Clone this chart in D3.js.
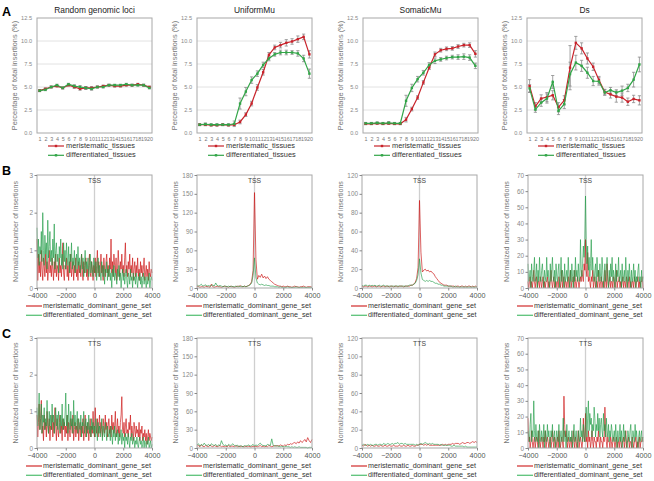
<!DOCTYPE html>
<html><head><meta charset="utf-8">
<script src="https://cdn.jsdelivr.net/npm/d3@7"></script>
<style>body{margin:0;background:#fff} svg{display:block;font-family:Arial,"Liberation Sans",sans-serif}</style>
</head><body><svg id="c" width="654" height="481"></svg>
<script>
// ---------- DATA: row A (insertion position bins 1..20) ----------
const positions = d3.range(1, 21);
const titlesA = ["Random genomic loci", "UniformMu", "SomaticMu", "Ds"];
const yTicksA = [0, 2.5, 5, 7.5, 10, 12.5];
const seriesNamesA = ["meristematic_tissues", "differentiated_tissues"];

const randomMer = [4.6,4.8,5.0,5.1,4.9,5.2,5.0,4.8,4.9,4.9,5.0,5.1,5.2,5.1,5.1,5.2,5.2,5.3,5.2,5.0];
const randomMerErr = [0.1,0.1,0.1,0.1,0.1,0.1,0.15,0.15,0.15,0.15,0.1,0.1,0.1,0.1,0.1,0.1,0.1,0.1,0.1,0.1];
const randomDif = [4.6,4.7,5.0,5.2,4.9,5.3,5.1,5.0,4.9,4.8,5.0,5.0,5.2,5.2,5.2,5.3,5.2,5.2,5.2,4.9];
const randomDifErr = [0.1,0.1,0.1,0.1,0.1,0.1,0.15,0.15,0.15,0.15,0.1,0.1,0.1,0.1,0.1,0.1,0.1,0.1,0.1,0.1];

const uniMer = [0.9,0.9,0.85,0.85,0.9,0.85,0.9,1.2,2.0,3.2,4.95,6.6,8.5,9.3,9.55,9.8,9.95,10.2,10.45,8.55];
const uniMerErr = [0.1,0.1,0.1,0.1,0.1,0.1,0.1,0.2,0.2,0.25,0.3,0.3,0.25,0.25,0.3,0.35,0.3,0.35,0.3,0.4];
const uniDif = [0.9,0.95,0.9,0.9,0.9,0.9,1.0,3.2,4.5,5.75,6.45,7.4,8.1,8.55,8.75,8.75,8.75,8.65,8.1,6.45];
const uniDifErr = [0.1,0.15,0.1,0.1,0.1,0.1,0.3,0.6,0.45,0.35,0.3,0.3,0.25,0.2,0.25,0.25,0.2,0.3,0.35,0.5];

const somMer = [1.0,1.0,1.05,1.0,1.05,1.0,1.0,1.45,2.6,3.85,5.5,7.1,8.55,9.0,9.15,9.2,9.4,9.55,9.55,8.6];
const somMerErr = [0.1,0.1,0.1,0.1,0.1,0.1,0.1,0.25,0.2,0.2,0.2,0.2,0.25,0.2,0.2,0.2,0.2,0.2,0.25,0.35];
const somDif = [1.05,1.05,1.1,1.05,1.1,1.05,1.05,3.5,4.9,5.85,6.55,7.4,7.85,8.0,8.15,8.25,8.25,8.3,8.2,7.3];
const somDifErr = [0.1,0.1,0.1,0.1,0.15,0.1,0.1,0.6,0.4,0.3,0.25,0.25,0.3,0.2,0.2,0.2,0.25,0.3,0.3,0.3];

const dsMer = [5.1,2.9,3.75,3.9,4.1,2.8,3.55,7.1,9.8,9.2,8.1,7.2,5.75,4.45,4.2,3.95,3.85,3.4,3.7,3.55];
const dsMerErr = [0.7,0.4,0.4,0.5,0.5,0.5,0.5,2.4,0.7,0.6,0.6,0.4,0.4,0.3,0.4,0.6,0.5,0.4,0.4,0.5];
const dsDif = [4.85,2.55,3.3,3.75,5.55,2.4,3.15,6.4,7.65,7.3,6.55,5.65,5.6,4.4,4.65,4.4,4.6,4.9,5.8,7.45];
const dsDifErr = [0.4,0.3,0.4,0.5,0.7,0.4,0.5,1.3,0.8,0.6,0.6,0.5,0.4,0.3,0.3,0.3,0.5,0.4,0.8,0.8];

// ---------- DATA: rows B (TSS) and C (TTS), distance -4000..4000 ----------
const distTicks = [-4000, -2000, 0, 2000, 4000];
const seriesNamesBC = ["meristematic_dominant_gene_set", "differentiated_dominant_gene_set"];
const yMaxBC = [3, 180, 120, 70];
const yTicksBC = [[0,1,2,3],[0,30,60,90,120,150,180],[0,20,40,60,80,100,120],[0,10,20,30,40,50,60,70]];

const rndTssMer = [1.3,0.2,0.9,0.4,0.7,0.3,1.0,0.5,0.2,0.8,0.6,0.3,0.9,0.4,0.7,0.2,0.5,1.0,0.4,0.6,
0.3,0.8,0.5,0.2,0.7,0.4,0.9,0.3,0.6,0.5,0.2,0.8,0.4,0.6,0.3,0.7,1.2,0.4,0.2,0.6,
0.5,0.8,0.3,0.6,0.2,0.7,0.4,0.9,0.3,0.5,0.7,0.2,0.6,0.4,0.8,0.3,0.5,0.2,0.7,0.4,
0.6,0.3,0.9,0.5,0.2,0.7,0.4,0.6,0.8,0.3,0.5,0.2,0.6,0.9,0.4,0.3,0.7,0.5,0.2,0.6,
0.4,0.8,0.3,0.6,1.0,0.4,0.7,0.3,0.5,0.9,0.4,0.6,0.2,0.8,0.5,0.3,0.7,0.9,0.4,0.6,
0.3,0.8,0.5,1.3,0.4,0.7,0.3,0.9,0.6,0.4,0.8,0.2,0.5,1.0,0.6,0.3,0.7,0.5,0.9,0.4,
0.6,0.3,0.8,1.2,0.4,0.6,0.3,0.7,0.5,0.9,0.3,0.6,0.4,0.8,0.2,0.5,0.7,0.3,0.6,0.4,
0.8,0.3,0.5,0.2,0.7,0.4,0.6,0.3,0.5,0.8,0.2,0.4,0.6,0.3,0.5,0.2,0.7,0.4,0.3,0.5,0.4];
const rndTssDif = [1.6,0.8,1.3,0.6,1.1,0.9,1.5,0.7,2.0,1.0,0.6,1.4,0.9,1.2,0.5,1.8,0.8,1.1,1.5,0.7,
1.0,0.6,1.3,0.8,1.7,0.5,1.0,1.2,0.7,0.9,0.4,1.1,0.8,1.3,0.6,0.9,0.5,1.2,0.7,1.0,
0.5,1.2,0.8,0.6,1.1,0.4,0.9,0.7,1.2,0.5,0.8,0.6,1.0,0.4,0.7,0.9,0.5,1.1,0.6,0.8,
0.4,0.7,0.9,0.5,0.8,0.3,0.6,1.0,0.4,0.7,0.5,0.8,0.3,0.6,0.9,0.4,0.7,0.5,0.3,0.8,
0.6,0.4,0.7,0.2,0.5,0.8,0.3,0.6,0.4,0.2,0.7,0.5,0.3,0.6,0.1,0.5,0.4,0.7,0.2,0.5,
0.3,0.6,0.2,0.4,0.0,0.5,0.3,0.6,0.2,0.4,0.3,0.1,0.5,0.3,0.6,0.2,0.4,0.0,0.3,0.5,
0.2,0.4,0.1,0.3,0.5,0.2,0.0,0.4,0.3,0.1,0.5,0.2,0.3,0.0,0.4,0.2,0.3,0.1,0.4,0.2,
0.0,0.3,0.2,0.4,0.1,0.3,0.0,0.2,0.4,0.1,0.3,0.2,0.0,0.3,0.1,0.2,0.4,0.0,0.2,0.3,0.2];

const uniTssMer = [2,3,1,2,2,1,3,2,2,1,6,2,1,2,3,2,2,1,2,3,2,2,1,3,2,2,1,2,3,2,4,2,2,3,2,3,4,6,10,28,152,45,14,20,17,22,16,19,15,18,14,12,10,8,6,5,4,3,3,2,3,2,2,3,2,2,1,2,3,2,2,1,2,2,3,2,1,2,2,2,1];
const uniTssDif = [5,3,4,6,3,4,5,3,4,3,4,5,3,8,4,3,4,3,2,3,3,2,3,2,3,2,2,3,2,3,2,3,2,3,2,3,4,5,8,20,48,16,8,6,5,6,5,4,5,4,4,3,3,3,2,2,2,1,2,1,1,1,1,2,1,1,1,1,1,2,1,1,1,1,1,1,1,1,1,1,1];

const somTssMer = [2,1,2,2,1,2,2,1,2,2,1,2,2,1,2,2,1,2,2,1,2,2,1,2,2,1,2,2,2,1,2,2,2,2,3,3,4,6,10,22,93,38,17,19,20,18,19,17,18,16,15,12,10,8,6,5,4,3,3,3,2,2,2,2,2,1,2,2,1,2,2,1,2,1,2,2,1,2,1,2,1];
const somTssDif = [3,2,3,3,2,3,2,3,2,3,2,2,3,2,2,3,2,2,2,2,2,2,2,2,2,2,2,2,2,2,2,2,2,3,3,3,4,5,8,14,31,16,9,8,7,8,7,8,7,7,6,5,5,4,4,3,3,2,2,2,2,2,2,1,1,2,1,1,1,1,1,1,1,1,1,1,1,1,1,1,1];

const dsTssMer = [4,0,4,7,0,4,0,4,11,4,0,4,7,0,4,4,0,7,4,0,
4,7,0,4,0,4,4,7,0,4,0,4,11,4,0,4,7,0,4,0,
4,4,0,7,4,0,4,11,0,4,7,0,4,4,0,4,7,0,4,11,
0,4,4,7,0,11,4,0,4,7,4,0,4,7,4,11,7,4,15,11,
30,11,7,22,4,7,4,0,7,4,11,0,4,7,0,4,4,0,11,4,
0,4,7,0,4,4,0,11,4,0,15,4,0,4,7,0,4,4,0,7,
4,0,4,11,0,4,4,7,0,4,0,4,7,0,4,4,0,7,4,0,
4,7,0,4,0,4,4,0,7,4,0,4,4,7,0,4,0,4,4,7,0];
const dsTssDif = [15,4,7,11,0,15,7,4,11,19,4,7,15,0,11,4,19,7,4,11,
15,7,0,11,7,4,19,7,11,4,0,15,4,11,19,7,4,11,0,15,
7,4,11,15,0,7,19,4,11,7,0,15,4,7,11,4,19,7,0,11,
4,15,7,0,11,4,19,7,11,4,15,7,4,30,11,7,15,26,19,30,
57,30,15,26,11,19,7,15,30,11,19,7,4,11,15,0,19,7,11,4,
15,7,4,19,11,0,7,15,4,11,19,7,0,11,4,15,7,19,4,11,
7,0,15,4,11,7,19,4,7,11,0,15,4,7,11,4,19,7,0,11,
4,15,7,0,11,4,7,15,4,11,0,7,4,11,15,4,7,0,11,4,7];

const rndTtsMer = [0.9,0.3,0.7,1.2,0.5,0.8,1.3,0.4,0.6,0.2,0.9,0.5,0.7,0.3,1.0,0.6,0.4,0.8,0.2,0.6,
0.5,0.9,0.3,0.7,0.4,1.1,0.6,0.2,0.8,0.5,0.3,0.7,0.9,0.4,0.6,0.2,0.8,0.5,0.7,0.3,
0.6,0.4,0.9,0.2,0.7,0.5,0.3,0.8,0.6,0.4,0.9,0.2,0.5,0.7,0.3,0.6,0.4,0.8,0.2,0.5,
0.7,0.3,0.6,0.4,0.8,0.2,0.5,0.9,0.3,0.6,0.4,0.7,0.2,0.5,0.8,0.3,0.6,0.4,1.0,0.5,
0.3,1.1,0.6,0.4,0.8,0.3,0.6,0.9,0.4,0.7,0.5,0.3,0.8,0.6,0.4,0.9,0.5,0.7,0.3,0.6,
0.8,0.4,0.6,0.3,0.9,0.5,0.7,0.4,0.6,1.0,0.3,0.5,0.8,0.4,0.6,0.3,0.7,0.9,1.4,0.5,
0.4,0.7,0.3,0.6,0.8,0.4,0.5,0.3,0.7,0.5,0.9,0.3,0.6,0.4,0.2,0.7,0.5,0.3,0.6,0.4,
0.5,0.3,0.7,0.2,0.5,0.4,0.6,0.2,0.4,0.3,0.5,0.2,0.4,0.1,0.3,0.5,0.2,0.4,0.3,0.2,0.3];
const rndTtsDif = [1.1,0.6,0.9,1.5,0.5,0.8,1.2,0.4,0.9,0.7,1.1,0.5,0.8,0.6,1.3,0.7,0.4,1.0,0.6,0.9,
0.5,1.2,0.7,0.9,0.4,0.8,1.1,0.6,0.9,0.5,1.0,0.7,0.4,0.9,0.6,1.2,0.5,0.8,0.6,0.9,
1.5,0.6,0.9,0.4,1.2,0.7,0.5,1.0,0.6,0.8,0.4,1.3,0.6,0.9,0.5,0.7,1.0,0.4,0.8,0.6,
0.5,0.9,0.3,0.7,0.6,1.0,0.4,0.6,0.8,0.3,0.7,0.5,0.9,0.4,0.6,0.3,0.8,0.5,0.7,0.4,
0.6,0.3,0.8,0.5,0.2,0.7,0.4,0.6,0.3,0.5,0.8,0.2,0.6,0.4,0.3,0.7,0.5,0.2,0.6,0.4,
0.3,0.5,0.2,0.6,0.4,0.1,0.5,0.3,0.6,0.2,0.4,0.3,0.5,0.1,0.4,0.2,0.3,0.5,0.1,0.4,
0.2,0.3,0.0,0.4,0.2,0.3,0.1,0.4,0.2,0.0,0.3,0.2,0.4,0.1,0.2,0.3,0.0,0.2,0.1,0.3,
0.1,0.0,0.2,0.3,0.1,0.2,0.0,0.1,0.3,0.0,0.2,0.1,0.0,0.2,0.1,0.3,0.0,0.1,0.2,0.0,0.1];

const uniTtsMer = [3,4,2,5,3,2,4,3,2,5,3,2,4,3,2,3,4,2,3,2,3,2,4,2,3,3,2,4,2,3,2,3,2,2,3,2,3,2,2,3,2,3,2,3,4,2,3,2,3,2,4,3,2,3,4,3,4,3,5,4,3,5,4,6,5,7,6,8,9,7,10,8,12,9,11,14,10,17,12,9,14];
const uniTtsDif = [5,7,3,6,4,8,5,4,6,3,7,5,4,6,3,5,4,12,6,4,5,3,6,4,5,7,4,3,5,2,4,3,2,4,3,4,5,3,4,6,3,5,4,6,8,5,4,4,3,6,5,4,15,4,3,4,3,3,2,3,2,2,3,2,2,1,2,1,2,1,1,2,1,1,1,1,1,0,1,1,1];

const somTtsMer = [3,2,4,3,2,3,2,3,2,2,3,2,2,3,2,2,3,2,2,3,2,2,3,2,2,2,3,2,2,3,2,2,3,2,2,3,2,2,3,3,4,4,4,3,4,3,4,3,3,3,3,3,3,3,3,3,4,3,4,3,4,4,4,5,4,5,5,5,4,5,6,5,5,6,6,5,6,7,6,7,6];
const somTtsDif = [3,4,3,3,4,3,4,3,3,4,4,3,4,4,3,5,4,4,5,4,4,5,4,5,5,6,4,5,5,4,5,4,4,4,4,4,4,3,4,3,4,5,4,5,6,5,4,5,4,5,4,4,4,4,3,4,3,3,3,3,3,3,2,2,3,2,2,2,2,2,2,1,2,1,1,1,1,1,1,1,1];

const dsTtsMer = [19,4,7,0,4,11,4,0,4,7,0,4,7,4,0,11,4,0,4,7,
4,0,7,4,11,0,4,7,4,0,4,7,0,4,11,4,0,7,4,0,
4,7,0,11,4,0,4,7,4,0,33,15,7,11,4,0,7,4,0,4,
7,0,4,11,4,0,7,4,0,4,11,0,4,7,4,0,4,19,7,4,
22,4,7,0,11,4,7,0,4,11,4,0,7,4,4,0,7,4,11,4,
0,7,4,4,0,7,4,26,11,4,0,7,4,4,0,7,4,0,4,7,
4,0,4,7,0,4,4,0,7,4,0,4,4,7,0,4,11,0,4,4,
7,0,4,4,0,7,4,0,4,4,7,0,4,0,4,7,0,4,4,7,4];
const dsTtsDif = [11,7,4,15,22,4,11,7,30,11,4,15,7,4,11,0,15,7,4,11,
7,4,15,0,11,7,4,15,7,11,4,0,11,7,15,4,7,11,0,4,
11,7,4,15,0,7,11,4,7,19,4,11,7,0,15,4,7,11,4,7,
4,11,0,7,15,4,7,11,4,0,11,7,4,19,7,11,4,15,7,4,
15,26,7,19,30,11,22,15,19,7,15,11,26,19,7,15,11,22,11,19,
7,15,19,11,7,22,11,15,7,19,11,7,15,4,11,7,15,11,4,7,
11,4,15,7,0,11,4,7,15,4,11,0,7,15,4,11,7,4,0,11,
7,4,11,15,4,0,11,7,4,15,7,11,4,0,7,11,4,7,11,4,7];

// ---------- LAYOUT ----------
const svg = d3.select("#c");
const colsA = [37, 197, 363, 527], colsBC = [37, 197, 362, 528], pw = 115;
const rows = {A: [18, 133], B: [175, 288], C: [338, 448]};
const RED = "#c8232b", GREEN = "#32a548";

function styleAxis(g, size, color) {
  g.select(".domain").remove();
  g.selectAll("text").attr("font-size", size).attr("fill", color).attr("font-family", "Arial, Liberation Sans, sans-serif");
  g.selectAll("line").attr("stroke", "#888");
}

function panelA(i, mer, merErr, dif, difErr) {
  const x0 = colsA[i], [top, bot] = rows.A;
  const x = d3.scaleLinear().domain([0.55, 20.45]).range([x0, x0 + pw]);
  const y = d3.scaleLinear().domain([0, 12.5]).range([bot, top]);
  const g = svg.append("g");
  g.selectAll(".grid").data(yTicksA.slice(1, -1)).join("line")
    .attr("x1", x0).attr("x2", x0 + pw).attr("y1", d => y(d)).attr("y2", d => y(d))
    .attr("stroke", "#e2e2e2").attr("stroke-width", 1);
  g.append("rect").attr("x", x0).attr("y", top).attr("width", pw).attr("height", bot - top)
    .attr("fill", "none").attr("stroke", "#a8a8a8").attr("stroke-width", 1);
  g.append("g").attr("transform", `translate(${x0},0)`)
    .call(d3.axisLeft(y).tickValues(yTicksA).tickFormat(d3.format(".1f")).tickSize(0).tickPadding(5))
    .call(a => styleAxis(a, 5.6, "#888"));
  g.append("g").attr("transform", `translate(0,${bot})`)
    .call(d3.axisBottom(x).tickValues(positions).tickFormat(d3.format("d")).tickSize(0).tickPadding(4))
    .call(a => styleAxis(a, 5.4, "#777"));
  g.append("text").attr("x", x0 - 22).attr("y", (top + bot) / 2).attr("transform", `rotate(-90,${x0 - 22},${(top + bot) / 2})`)
    .attr("text-anchor", "middle").attr("dominant-baseline", "middle").attr("font-size", 7.4).attr("fill", "#777")
    .text("Percentage of total insertions (%)");
  g.append("text").attr("x", x0 + pw / 2).attr("y", 13).attr("text-anchor", "middle")
    .attr("font-size", 8.4).attr("fill", "#222").text(titlesA[i]);

  const sets = [[mer, merErr, RED], [dif, difErr, GREEN]];
  sets.forEach(([vals, errs, col]) => {
    const pts = vals.map((v, k) => ({p: positions[k], v, e: errs[k]}));
    const eb = g.append("g").attr("stroke", "#8a8a8a").attr("stroke-width", 0.8);
    pts.forEach(d => {
      eb.append("line").attr("x1", x(d.p)).attr("x2", x(d.p)).attr("y1", y(d.v - d.e)).attr("y2", y(d.v + d.e));
      eb.append("line").attr("x1", x(d.p) - 1.6).attr("x2", x(d.p) + 1.6).attr("y1", y(d.v - d.e)).attr("y2", y(d.v - d.e));
      eb.append("line").attr("x1", x(d.p) - 1.6).attr("x2", x(d.p) + 1.6).attr("y1", y(d.v + d.e)).attr("y2", y(d.v + d.e));
    });
  });
  sets.forEach(([vals, errs, col]) => {
    const pts = vals.map((v, k) => ({p: positions[k], v}));
    g.append("path").datum(pts).attr("fill", "none").attr("stroke", col).attr("stroke-width", 1.2)
      .attr("d", d3.line().x(d => x(d.p)).y(d => y(d.v)));
    g.selectAll(null).data(pts).join("rect").attr("x", d => x(d.p) - 1.2).attr("y", d => y(d.v) - 1.2)
      .attr("width", 2.4).attr("height", 2.4).attr("fill", col);
  });
  seriesNamesA.forEach((name, k) => {
    const ly = 146 + k * 9.3, col = k ? GREEN : RED, lx = x0 + 11;
    g.append("line").attr("x1", lx).attr("x2", lx + 16).attr("y1", ly).attr("y2", ly).attr("stroke", col).attr("stroke-width", 1.2);
    g.append("rect").attr("x", lx + 8 - 1.2).attr("y", ly - 1.2).attr("width", 2.4).attr("height", 2.4).attr("fill", col);
    g.append("text").attr("x", lx + 18).attr("y", ly).attr("dominant-baseline", "middle")
      .attr("font-size", 7.4).attr("fill", "#333").text(name);
  });
}

function panelBC(row, i, mer, dif, label) {
  const x0 = colsBC[i], [top, bot] = rows[row];
  const x = d3.scaleLinear().domain([-4000, 4000]).range([x0, x0 + pw]);
  const y = d3.scaleLinear().domain([0, yMaxBC[i]]).range([bot, top]);
  const g = svg.append("g");
  g.append("line").attr("x1", x(0)).attr("x2", x(0)).attr("y1", top).attr("y2", bot)
    .attr("stroke", "#cfcfcf").attr("stroke-width", 1.3);
  g.append("text").attr("x", x(0)).attr("y", top + 7.5).attr("text-anchor", "middle")
    .attr("font-size", 6.8).attr("fill", "#444").text(label);
  const line = vals => d3.line()
    .x((d, k) => x(-4000 + k * 8000 / (vals.length - 1))).y(d => y(d))(vals);
  g.append("path").attr("d", line(mer)).attr("fill", "none").attr("stroke", "#cc1616").attr("stroke-width", 0.9).attr("stroke-opacity", 0.75);
  g.append("path").attr("d", line(dif)).attr("fill", "none").attr("stroke", "#1f9a45").attr("stroke-width", 0.9).attr("stroke-opacity", 0.7);
  g.append("rect").attr("x", x0).attr("y", top).attr("width", pw).attr("height", bot - top)
    .attr("fill", "none").attr("stroke", "#a8a8a8").attr("stroke-width", 1);
  g.append("g").attr("transform", `translate(${x0},0)`)
    .call(d3.axisLeft(y).tickValues(yTicksBC[i]).tickFormat(d3.format("d")).tickSize(2.5).tickPadding(1.5))
    .call(a => styleAxis(a, 6.4, "#888"));
  g.append("g").attr("transform", `translate(0,${bot})`)
    .call(d3.axisBottom(x).tickValues(distTicks).tickFormat(d3.format("d")).tickSize(2.5).tickPadding(2))
    .call(a => styleAxis(a, 7.2, "#555"));
  g.append("text").attr("x", x0 - 21).attr("y", (top + bot) / 2).attr("transform", `rotate(-90,${x0 - 21},${(top + bot) / 2})`)
    .attr("text-anchor", "middle").attr("dominant-baseline", "middle").attr("font-size", 7).attr("fill", "#777")
    .text("Normalized number of insertions");
  seriesNamesBC.forEach((name, k) => {
    const ly = bot + 18 + k * 9.3, col = k ? "#5cc27a" : "#d43a3a", lx = x0 - 11;
    g.append("line").attr("x1", lx).attr("x2", lx + 16).attr("y1", ly).attr("y2", ly).attr("stroke", col).attr("stroke-width", 1.3);
    g.append("text").attr("x", lx + 17).attr("y", ly).attr("dominant-baseline", "middle")
      .attr("font-size", 7.2).attr("fill", "#333").text(name);
  });
}

panelA(0, randomMer, randomMerErr, randomDif, randomDifErr);
panelA(1, uniMer, uniMerErr, uniDif, uniDifErr);
panelA(2, somMer, somMerErr, somDif, somDifErr);
panelA(3, dsMer, dsMerErr, dsDif, dsDifErr);

panelBC("B", 0, rndTssMer, rndTssDif, "TSS");
panelBC("B", 1, uniTssMer, uniTssDif, "TSS");
panelBC("B", 2, somTssMer, somTssDif, "TSS");
panelBC("B", 3, dsTssMer, dsTssDif, "TSS");
panelBC("C", 0, rndTtsMer, rndTtsDif, "TTS");
panelBC("C", 1, uniTtsMer, uniTtsDif, "TTS");
panelBC("C", 2, somTtsMer, somTtsDif, "TTS");
panelBC("C", 3, dsTtsMer, dsTtsDif, "TTS");

[["A", 16], ["B", 175], ["C", 338]].forEach(([t, yy]) =>
  svg.append("text").attr("x", 2).attr("y", yy).attr("font-size", 12.5).attr("font-weight", "bold").attr("fill", "#000").text(t));
</script></body></html>
